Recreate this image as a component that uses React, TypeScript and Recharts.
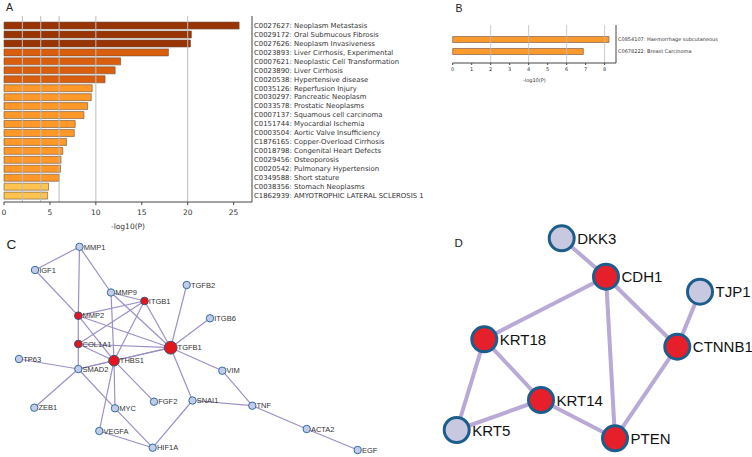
import { BarChart, Bar, XAxis, YAxis, Cell, ReferenceLine, ScatterChart, Scatter } from 'recharts'

// Panel A: DisGeNET enrichment
const A_IDS = ['C0027627', 'C0029172', 'C0027626', 'C0023893', 'C0007621', 'C0023890', 'C0020538', 'C0035126', 'C0030297', 'C0033578', 'C0007137', 'C0151744', 'C0003504', 'C1876165', 'C0018798', 'C0029456', 'C0020542', 'C0349588', 'C0038356', 'C1862939']
const A_NAMES = ['Neoplasm Metastasis', 'Oral Submucous Fibrosis', 'Neoplasm Invasiveness', 'Liver Cirrhosis, Experimental', 'Neoplastic Cell Transformation', 'Liver Cirrhosis', 'Hypertensive disease', 'Reperfusion Injury', 'Pancreatic Neoplasm', 'Prostatic Neoplasms', 'Squamous cell carcinoma', 'Myocardial Ischemia', 'Aortic Valve Insufficiency', 'Copper-Overload Cirrhosis', 'Congenital Heart Defects', 'Osteoporosis', 'Pulmonary Hypertension', 'Short stature', 'Stomach Neoplasms', 'AMYOTROPHIC LATERAL SCLEROSIS 1']
const A_LOGP = [25.6, 20.4, 20.3, 17.9, 12.7, 12.1, 11.0, 9.6, 9.5, 9.1, 8.7, 7.75, 7.65, 6.8, 6.4, 6.2, 6.15, 6.0, 4.85, 4.75]
const A_TICKS = [0, 5, 10, 15, 20, 25]
const A_GRID = [2, 4, 6, 10, 20]

// Panel B
const B_IDS = ['C0854107', 'C0678222']
const B_NAMES = ['Haemorrhage subcutaneous', 'Breast Carcinoma']
const B_LOGP = [8.23, 6.88]
const B_TICKS = [0, 1, 2, 3, 4, 5, 6, 7, 8]
const B_GRID = [2, 4, 6, 8]

// Panel C: PPI network (layout coordinates)
const C_GENES = ['MMP1', 'IGF1', 'MMP9', 'ITGB1', 'TGFB2', 'MMP2', 'COL1A1', 'TGFB1', 'THBS1', 'TP63', 'SMAD2', 'ZEB1', 'MYC', 'FGF2', 'SNAI1', 'VEGFA', 'HIF1A', 'ITGB6', 'VIM', 'TNF', 'ACTA2', 'EGF']
const C_X = [79.5, 35, 111, 144.5, 186.7, 78.3, 78.3, 170.7, 114, 19, 78.3, 34.3, 115, 154, 192.5, 99.3, 152.7, 210, 222.3, 252.3, 306.7, 357.7]
const C_Y = [16.8, 40, 62.5, 71, 55, 85.7, 114, 117.7, 130.7, 129, 139, 177.7, 178.3, 171.7, 170.5, 201, 217.7, 88.3, 140.7, 175.7, 199, 220]
const C_KIND = ['o', 'o', 'o', 'hit', 'o', 'hit', 'hit', 'hub', 'big', 'o', 'o', 'o', 'o', 'o', 'o', 'o', 'o', 'o', 'o', 'o', 'o', 'o']
const C_EDGES: [string, string][] = [
  ['MMP1', 'IGF1'], ['MMP1', 'MMP2'], ['MMP1', 'MMP9'], ['IGF1', 'MMP2'], ['MMP9', 'ITGB1'], ['MMP9', 'TGFB1'], ['MMP9', 'THBS1'],
  ['ITGB1', 'MMP2'], ['ITGB1', 'COL1A1'], ['ITGB1', 'THBS1'], ['ITGB1', 'TGFB1'], ['MMP2', 'COL1A1'], ['MMP2', 'TGFB1'],
  ['MMP2', 'THBS1'], ['COL1A1', 'TGFB1'], ['COL1A1', 'THBS1'], ['COL1A1', 'SMAD2'], ['THBS1', 'TGFB1'], ['THBS1', 'SMAD2'],
  ['SMAD2', 'TGFB1'], ['THBS1', 'FGF2'], ['THBS1', 'VEGFA'], ['THBS1', 'MYC'], ['TP63', 'SMAD2'], ['SMAD2', 'ZEB1'],
  ['SMAD2', 'MYC'], ['MYC', 'HIF1A'], ['VEGFA', 'HIF1A'], ['HIF1A', 'SNAI1'], ['TGFB1', 'SNAI1'], ['TGFB1', 'TGFB2'],
  ['TGFB1', 'ITGB6'], ['TGFB1', 'VIM'], ['VIM', 'TNF'], ['SNAI1', 'TNF'], ['TNF', 'ACTA2'], ['ACTA2', 'EGF'],
]

// Panel D: sub-network
const D_GENES = ['DKK3', 'CDH1', 'TJP1', 'KRT18', 'CTNNB1', 'KRT14', 'KRT5', 'PTEN']
const D_X = [131.7, 176, 270, 54.3, 247.3, 111, 26.7, 185]
const D_Y = [18.3, 56.7, 71.7, 119.3, 126.7, 180, 210, 218.3]
const D_HIT = [false, true, false, true, true, true, false, true]
const D_EDGES: [string, string][] = [
  ['DKK3', 'CDH1'], ['CDH1', 'KRT18'], ['CDH1', 'PTEN'], ['CDH1', 'CTNNB1'], ['TJP1', 'CTNNB1'],
  ['KRT18', 'KRT14'], ['KRT18', 'KRT5'], ['KRT14', 'KRT5'], ['KRT14', 'PTEN'], ['CTNNB1', 'PTEN'],
]

const FRAME = '#444'
const TEXT = '#333'

function barColor(v: number) {
  if (v >= 20) return '#993404'
  if (v >= 10) return '#d95f0e'
  if (v >= 5.5) return '#fe9929'
  return '#fec44f'
}

const aRows = A_IDS.map((id, i) => ({ label: `${id}: ${A_NAMES[i]}`, v: A_LOGP[i] }))
const bRows = B_IDS.map((id, i) => ({ label: `${id}: ${B_NAMES[i]}`, v: B_LOGP[i] }))

const cNodes = C_GENES.map((name, i) => ({ name, x: C_X[i], y: C_Y[i], kind: C_KIND[i] }))
const dNodes = D_GENES.map((name, i) => ({ name, x: D_X[i], y: D_Y[i], hit: D_HIT[i] }))

function edgeData(nodes: { name: string; x: number; y: number }[], edges: [string, string][]) {
  return edges.map(([a, b]) => [nodes.find((n) => n.name === a)!, nodes.find((n) => n.name === b)!])
}

// single-line term label (recharts would wrap it otherwise)
const termTick = (fontSize: number) => (props: any) => (
  <text x={props.x} y={props.y} dy="0.35em" fontSize={fontSize} fill={TEXT} fontFamily="DejaVu Sans" textAnchor="start">
    {props.payload.value}
  </text>
)

const C_STYLE: Record<string, { r: number; fill: string; stroke: string }> = {
  o: { r: 3.7, fill: '#c3cbe9', stroke: '#2f6fa3' },
  hit: { r: 3.8, fill: '#e3161c', stroke: '#3b4f7a' },
  big: { r: 5.3, fill: '#e3161c', stroke: '#3b4f7a' },
  hub: { r: 6.4, fill: '#e3161c', stroke: '#3b4f7a' },
}

function NodeC(props: any) {
  const { cx, cy, payload } = props
  const st = C_STYLE[payload.kind]
  return (
    <g>
      <circle cx={cx} cy={cy} r={st.r} fill={st.fill} stroke={st.stroke} strokeWidth={1} />
      <text x={cx + st.r + 0.5} y={cy + 2.7} fontSize={7.5} fill={TEXT} fontFamily="Liberation Sans, Arial">
        {payload.name}
      </text>
    </g>
  )
}

function NodeD(props: any) {
  const { cx, cy, payload } = props
  return (
    <g>
      <circle cx={cx} cy={cy} r={12.5} fill={payload.hit ? '#e5202a' : '#c8c9e0'} stroke="#1d5d8c" strokeWidth={3} />
      <text x={cx + 15.5} y={cy + 5.5} fontSize={15} fill="#111" fontFamily="Liberation Sans, Arial">
        {payload.name}
      </text>
    </g>
  )
}

const noDot = () => <g />

export default function App() {
  return (
    <div style={{ position: 'absolute', left: 0, top: 0, width: 752, height: 457, background: '#fff', overflow: 'hidden' }}>
      <div style={{ position: 'absolute', left: 0, top: 0 }}>
        <BarChart width={432} height={232} data={aRows} layout="vertical" margin={{ top: 16, right: 0, bottom: 0, left: 4 }} barCategoryGap="12%">
          <XAxis xAxisId="t" orientation="top" type="number" domain={[0, 27]} height={0} tick={false} tickLine={false} axisLine={{ stroke: FRAME }} />
          <XAxis
            xAxisId="b"
            type="number"
            domain={[0, 27]}
            ticks={A_TICKS}
            height={30}
            tickSize={3}
            tickMargin={5}
            axisLine={{ stroke: FRAME }}
            tickLine={{ stroke: FRAME }}
            tick={{ fontSize: 7.5, fill: TEXT, fontFamily: 'DejaVu Sans' }}
            label={{ value: '-log10(P)', position: 'insideBottom', offset: 3, fontSize: 7.5, fill: TEXT, fontFamily: 'DejaVu Sans' }}
          />
          <YAxis yAxisId="l" orientation="left" type="category" dataKey="label" width={0} tick={false} tickLine={false} axisLine={{ stroke: FRAME }} />
          <YAxis
            yAxisId="r"
            orientation="right"
            type="category"
            dataKey="label"
            width={180}
            interval={0}
            tickLine={false}
            tickSize={0}
            tickMargin={2}
            padding={{ top: 5, bottom: 2 }}
            axisLine={{ stroke: FRAME }}
            tick={termTick(6.9)}
          />
          {A_GRID.map((v) => (
            <ReferenceLine key={v} xAxisId="b" yAxisId="r" x={v} stroke="#bdbdbd" strokeWidth={1} />
          ))}
          <Bar dataKey="v" xAxisId="b" yAxisId="r" stroke="#6b5040" strokeWidth={0.6} isAnimationActive={false}>
            {aRows.map((r, i) => (
              <Cell key={i} fill={barColor(r.v)} />
            ))}
          </Bar>
        </BarChart>
      </div>

      <div style={{ position: 'absolute', left: 440, top: 0 }}>
        <BarChart width={306} height={90} data={bRows} layout="vertical" margin={{ top: 25, right: 0, bottom: 0, left: 12.7 }} barCategoryGap="25%">
          <XAxis xAxisId="t" orientation="top" type="number" domain={[0, 8.6]} height={0} tick={false} tickLine={false} axisLine={{ stroke: FRAME }} />
          <XAxis
            xAxisId="b"
            type="number"
            domain={[0, 8.6]}
            ticks={B_TICKS}
            height={27}
            tickSize={2}
            tickMargin={2}
            axisLine={{ stroke: FRAME }}
            tickLine={{ stroke: FRAME }}
            tick={{ fontSize: 5, fill: TEXT, fontFamily: 'DejaVu Sans' }}
            label={{ value: '-log10(P)', position: 'insideBottom', offset: 8, fontSize: 5, fill: TEXT, fontFamily: 'DejaVu Sans' }}
          />
          <YAxis yAxisId="l" orientation="left" type="category" dataKey="label" width={0} tick={false} tickLine={false} axisLine={{ stroke: FRAME }} />
          <YAxis
            yAxisId="r"
            orientation="right"
            type="category"
            dataKey="label"
            width={130}
            interval={0}
            tickLine={false}
            tickSize={0}
            tickMargin={2}
            padding={{ top: 8.5, bottom: 5.5 }}
            axisLine={{ stroke: FRAME }}
            tick={termTick(5)}
          />
          {B_GRID.map((v) => (
            <ReferenceLine key={v} xAxisId="b" yAxisId="r" x={v} stroke="#bdbdbd" strokeWidth={0.8} />
          ))}
          <Bar dataKey="v" xAxisId="b" yAxisId="r" fill="#fb9a2c" stroke="#6b5040" strokeWidth={0.6} isAnimationActive={false} />
        </BarChart>
      </div>

      <div style={{ position: 'absolute', left: 0, top: 230 }}>
        <ScatterChart width={380} height={227} margin={{ top: 0, right: 0, bottom: 0, left: 0 }}>
          <XAxis type="number" dataKey="x" domain={[0, 380]} hide />
          <YAxis type="number" dataKey="y" domain={[0, 227]} reversed hide />
          {edgeData(cNodes, C_EDGES).map((pair, i) => (
            <Scatter key={`e${i}`} data={pair} line={{ stroke: '#9d8fc7', strokeWidth: 1.2 }} shape={noDot} legendType="none" isAnimationActive={false} />
          ))}
          <Scatter data={cNodes} shape={NodeC} isAnimationActive={false} />
        </ScatterChart>
      </div>

      <div style={{ position: 'absolute', left: 430, top: 220 }}>
        <ScatterChart width={322} height={237} margin={{ top: 0, right: 0, bottom: 0, left: 0 }}>
          <XAxis type="number" dataKey="x" domain={[0, 322]} hide />
          <YAxis type="number" dataKey="y" domain={[0, 237]} reversed hide />
          {edgeData(dNodes, D_EDGES).map((pair, i) => (
            <Scatter key={`e${i}`} data={pair} line={{ stroke: '#b8a9d6', strokeWidth: 4 }} shape={noDot} legendType="none" isAnimationActive={false} />
          ))}
          <Scatter data={dNodes} shape={NodeD} isAnimationActive={false} />
        </ScatterChart>
      </div>

      <svg width={752} height={457} style={{ position: 'absolute', left: 0, top: 0, pointerEvents: 'none' }}>
        <g fontFamily="Liberation Sans, Arial" fill="#222">
          <text x={6} y={11} fontSize={10.5}>A</text>
          <text x={455.5} y={11.7} fontSize={10.5}>B</text>
          <text x={6.5} y={249.3} fontSize={13.5}>C</text>
          <text x={454.5} y={246.7} fontSize={11.5}>D</text>
        </g>
      </svg>
    </div>
  )
}
